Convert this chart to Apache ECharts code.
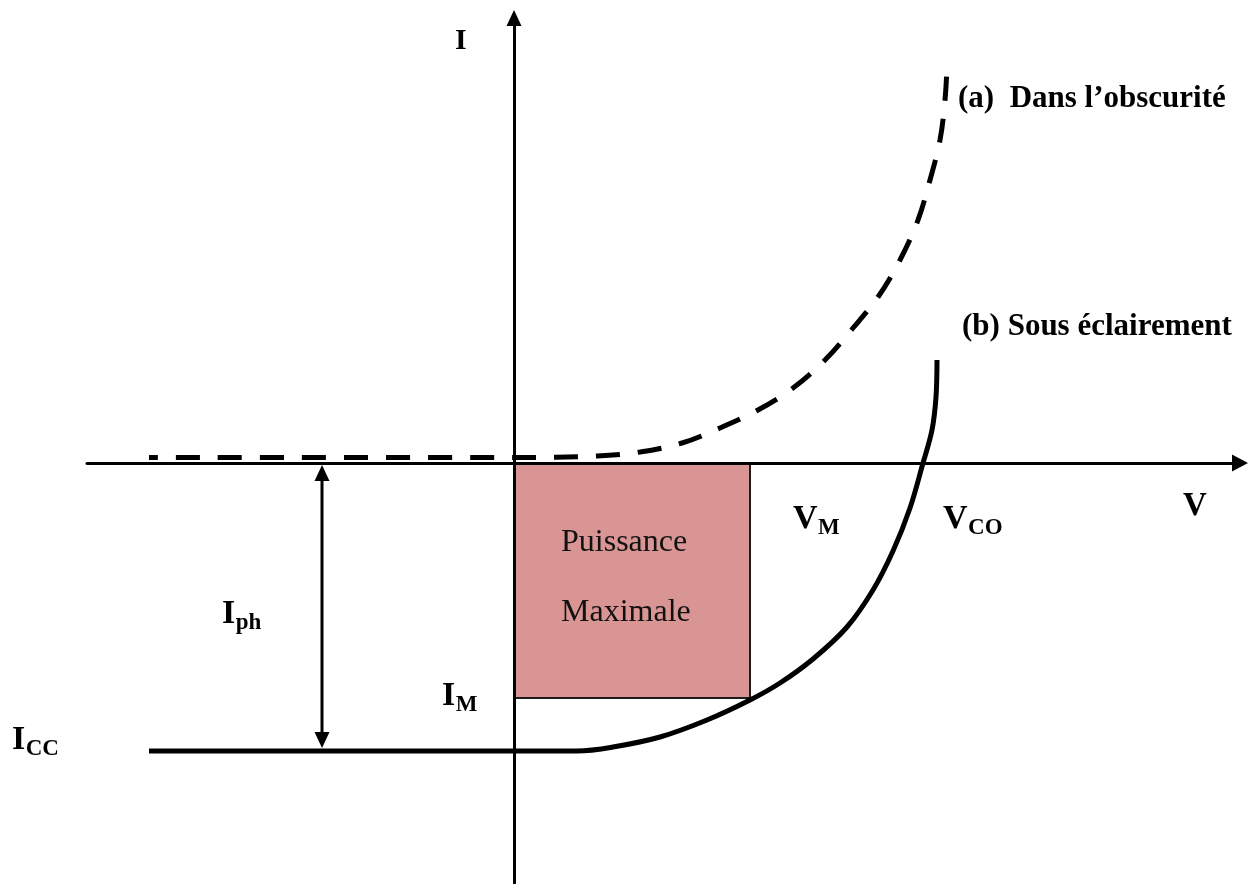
<!DOCTYPE html>
<html>
<head>
<meta charset="utf-8">
<script src="https://cdn.jsdelivr.net/npm/echarts@6/dist/echarts.min.js"></script>
<style>
  html, body { margin: 0; padding: 0; background: #ffffff; }
  #chart { width: 1258px; height: 884px; }
</style>
</head>
<body>
<div id="chart"></div>
<script>
// Characteristic I(V) of a photovoltaic cell (arbitrary units)

// (a) in the dark
const darkV = [-3.65, 0.00, 0.83, 1.26, 1.68, 2.06, 2.44, 2.79, 3.11, 3.39, 3.64, 3.86, 4.04, 4.16, 4.26, 4.31, 4.33];
const darkI = [0.055, 0.055, 0.07, 0.11, 0.20, 0.35, 0.53, 0.75, 1.03, 1.35, 1.66, 2.03, 2.43, 2.83, 3.23, 3.63, 3.96];

// (b) under illumination
const lightV = [-3.65, 0.00, 0.63, 0.99, 1.46, 1.93, 2.36, 2.66, 2.99, 3.33, 3.59, 3.79, 3.96, 4.09, 4.18, 4.22, 4.23];
const lightI = [-2.88, -2.88, -2.88, -2.84, -2.74, -2.57, -2.37, -2.20, -1.96, -1.64, -1.27, -0.88, -0.45, 0.00, 0.33, 0.66, 1.03];

// Maximum power point and short-circuit current
const pointVM = 2.36;
const pointIM = -2.35;
const currentICC = -2.88;
const iphArrowV = -1.92;

const serif = '"Liberation Serif", "Times New Roman", serif';

const chart = echarts.init(document.getElementById('chart'), null, { renderer: 'canvas' });

const zip = (xs, ys) => xs.map((x, i) => [x, ys[i]]);

const axisCommon = {
  type: 'value',
  z: 10,
  axisTick: { show: false },
  axisLabel: { show: false },
  splitLine: { show: false },
  axisLine: { show: true, onZero: true, symbol: ['none', 'triangle'], lineStyle: { color: '#000', width: 3 } }
};

chart.setOption({
  animation: false,
  backgroundColor: '#ffffff',
  grid: { left: 87, right: 18, top: 18, bottom: 1 },
  xAxis: Object.assign({}, axisCommon, {
    min: -4.27, max: 7.26,
    axisLine: Object.assign({}, axisCommon.axisLine, { symbolSize: [17, 16] })
  }),
  yAxis: Object.assign({}, axisCommon, {
    min: -4.2, max: 4.45,
    axisLine: Object.assign({}, axisCommon.axisLine, { symbolSize: [15, 16] })
  }),
  series: [
    {
      name: 'obscurite',
      type: 'line',
      data: zip(darkV, darkI),
      symbol: 'none',
      smooth: 0.35,
      silent: true,
      z: 3,
      lineStyle: { color: '#000', width: 5, type: [24, 18], dashOffset: 15, cap: 'butt' }
    },
    {
      name: 'eclairement',
      type: 'line',
      data: zip(lightV, lightI),
      symbol: 'none',
      smooth: 0.35,
      silent: true,
      z: 3,
      lineStyle: { color: '#000', width: 5 },
      markArea: {
        silent: true,
        itemStyle: { color: '#D99594', borderColor: '#1c1c1c', borderWidth: 2 },
        label: {
          show: true,
          position: 'insideLeft',
          distance: 48,
          offset: [0, -3],
          formatter: 'Puissance\nMaximale',
          fontFamily: serif,
          fontSize: 32,
          lineHeight: 70,
          color: '#111',
          align: 'left'
        },
        data: [[{ coord: [0, 0] }, { coord: [pointVM, pointIM] }]]
      }
    },
    {
      // double-headed arrow marking the photocurrent
      name: 'iph',
      type: 'custom',
      silent: true,
      z: 4,
      data: [[iphArrowV, 0, currentICC]],
      renderItem: function (params, api) {
        const top = api.coord([api.value(0), api.value(1)]);
        const bot = api.coord([api.value(0), api.value(2)]);
        const hw = 7.5, h = 16;
        const t = top[1] + 2, b = bot[1] - 3;
        return {
          type: 'group',
          children: [
            { type: 'line', shape: { x1: top[0], y1: t + h - 2, x2: bot[0], y2: b - h + 2 }, style: { stroke: '#000', lineWidth: 3 } },
            { type: 'polygon', shape: { points: [[top[0], t], [top[0] - hw, t + h], [top[0] + hw, t + h]] }, style: { fill: '#000' } },
            { type: 'polygon', shape: { points: [[bot[0], b], [bot[0] - hw, b - h], [bot[0] + hw, b - h]] }, style: { fill: '#000' } }
          ]
        };
      }
    }
  ]
});

// Text annotations: main text, optional subscript, left x and baseline y in pixels
const annotations = [
  { main: 'I', x: 455, base: 51, size: 30 },
  { main: '(a)  Dans l\u2019obscurit\u00e9', x: 958, base: 109, size: 31 },
  { main: '(b) Sous \u00e9clairement', x: 962, base: 337, size: 31 },
  { main: 'V', x: 1183, base: 518, size: 33 },
  { main: 'V', sub: 'M', x: 793, base: 531, size: 34, subSize: 23 },
  { main: 'V', sub: 'CO', x: 943, base: 531, size: 34, subSize: 23 },
  { main: 'I', sub: 'ph', x: 222, base: 626, size: 34, subSize: 23 },
  { main: 'I', sub: 'M', x: 442, base: 708, size: 34, subSize: 23 },
  { main: 'I', sub: 'CC', x: 12, base: 752, size: 34, subSize: 23 }
];

const measureCtx = document.createElement('canvas').getContext('2d');
function textWidth(text, font) {
  measureCtx.font = font;
  return measureCtx.measureText(text).width;
}
// canvas 'middle' sits about 0.3375em above the alphabetic baseline for this face
const MID = 0.3375;

const graphics = [];
annotations.forEach(function (a) {
  const font = 'bold ' + a.size + 'px ' + serif;
  graphics.push({
    type: 'text', x: a.x, y: a.base - MID * a.size, silent: true, z: 20,
    style: { text: a.main, font: font, fill: '#000', align: 'left', verticalAlign: 'middle' }
  });
  if (a.sub) {
    const subFont = 'bold ' + a.subSize + 'px ' + serif;
    const subBase = a.base + 5;
    graphics.push({
      type: 'text', x: a.x + textWidth(a.main, font) + 0.5, y: subBase - MID * a.subSize, silent: true, z: 20,
      style: { text: a.sub, font: subFont, fill: '#000', align: 'left', verticalAlign: 'middle' }
    });
  }
});
chart.setOption({ graphic: graphics });
</script>
</body>
</html>
